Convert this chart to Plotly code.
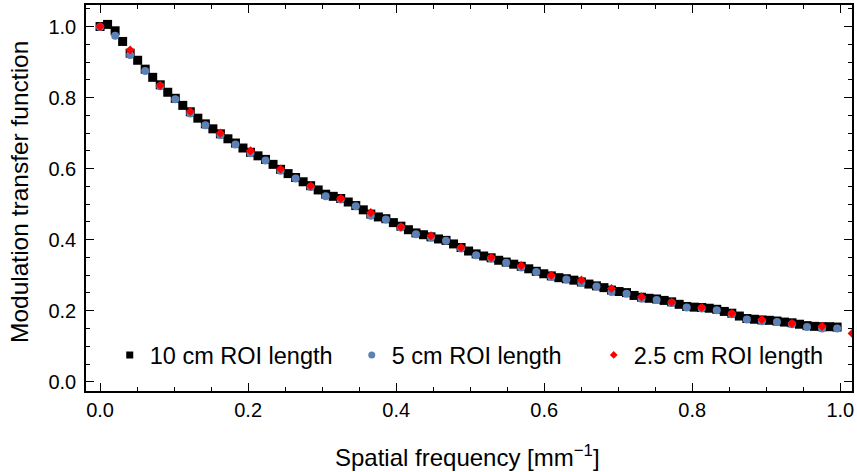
import plotly.graph_objects as go

# spatial frequency steps (mm^-1) for each ROI length
df_10 = 0.01016
df_5 = 0.02032
df_25 = 0.04064

mtf_10cm = [1.000, 1.006, 0.988, 0.958, 0.925, 0.905, 0.880, 0.857, 0.836, 0.815,
            0.798, 0.778, 0.760, 0.742, 0.726, 0.712, 0.698, 0.684, 0.672, 0.658,
            0.646, 0.636, 0.626, 0.612, 0.598, 0.586, 0.575, 0.563, 0.552, 0.540,
            0.528, 0.522, 0.516, 0.506, 0.496, 0.484, 0.472, 0.464, 0.459, 0.448,
            0.438, 0.428, 0.419, 0.414, 0.408, 0.402, 0.398, 0.388, 0.378, 0.368,
            0.360, 0.354, 0.349, 0.342, 0.337, 0.331, 0.325, 0.318, 0.311, 0.304,
            0.298, 0.293, 0.290, 0.286, 0.281, 0.275, 0.270, 0.265, 0.258, 0.254,
            0.251, 0.243, 0.238, 0.235, 0.233, 0.229, 0.225, 0.218, 0.212, 0.210,
            0.209, 0.207, 0.204, 0.198, 0.193, 0.185, 0.178, 0.176, 0.174, 0.173,
            0.171, 0.168, 0.166, 0.162, 0.158, 0.156, 0.155, 0.155, 0.154]

mtf_5cm = [0.999, 0.974, 0.920, 0.875, 0.832, 0.795, 0.755, 0.722, 0.694, 0.668,
           0.643, 0.623, 0.594, 0.572, 0.548, 0.5225, 0.513, 0.494, 0.467, 0.457,
           0.434, 0.415, 0.406, 0.397, 0.375, 0.356, 0.347, 0.335, 0.322, 0.309,
           0.295, 0.288, 0.278, 0.268, 0.253, 0.248, 0.234, 0.230, 0.222, 0.209,
           0.206, 0.201, 0.190, 0.175, 0.170, 0.168, 0.162, 0.154, 0.150, 0.150]

mtf_25cm = [1.000, 0.934, 0.834, 0.761, 0.700, 0.650, 0.599, 0.551, 0.516, 0.476,
            0.436, 0.411, 0.378, 0.350, 0.327, 0.300, 0.286, 0.2625, 0.239, 0.224,
            0.209, 0.192, 0.175, 0.164, 0.156, 0.136]

labels = ["10 cm ROI length", "5 cm ROI length", "2.5 cm ROI length"]
colors = ["#000000", "#5E81B5", "#FF0000"]
x_title = "Spatial frequency [mm<sup>−1</sup>]"
y_title = "Modulation transfer function"

f_10 = [df_10 * i for i in range(len(mtf_10cm))]
f_5 = [df_5 * i for i in range(len(mtf_5cm))]
f_25 = [df_25 * i for i in range(len(mtf_25cm))]

FONT = "Liberation Sans, Arial, Helvetica, sans-serif"

fig = go.Figure()
series = [
    (f_10, mtf_10cm, "square", 9, 7),
    (f_5, mtf_5cm, "circle", 8, 7),
    (f_25, mtf_25cm, "diamond", 7, 6),
]
for (x, y, sym, sz, lsz), lab, col in zip(series, labels, colors):
    fig.add_trace(go.Scatter(x=x, y=y, mode="markers", showlegend=False,
                             marker=dict(symbol=sym, size=sz, color=col, line=dict(width=0))))
for (x, y, sym, sz, lsz), lab, col in zip(series, labels, colors):
    fig.add_trace(go.Scatter(x=[None], y=[None], mode="markers", name=lab,
                             marker=dict(symbol=sym, size=lsz, color=col, line=dict(width=0))))

axis_common = dict(
    showline=True, linecolor="black", linewidth=1.6, mirror="allticks",
    ticks="inside", ticklen=8, tickwidth=1.3, tickcolor="black",
    showgrid=False, zeroline=False, dtick=0.2, tickformat=".1f",
    tickfont=dict(family=FONT, size=20, color="black"),
    minor=dict(ticks="inside", ticklen=4.5, tickwidth=1.3, tickcolor="black", dtick=0.05, showgrid=False),
    automargin=False,
)

fig.update_xaxes(range=[-0.019, 1.0158], tick0=0, **axis_common)
fig.update_yaxes(range=[-0.026, 1.0606], tick0=0, ticklabelstandoff=4, **axis_common)

L, R, T, B = 86, 5, 5, 81
fig.update_layout(
    width=857, height=472,
    margin=dict(l=L, r=R, t=T, b=B),
    plot_bgcolor="white", paper_bgcolor="white",
    font=dict(family=FONT, size=20, color="black"),
    legend=dict(orientation="h", x=0.031, y=0.093, xanchor="left", yanchor="middle",
                bgcolor="rgba(0,0,0,0)", font=dict(family=FONT, size=23.5, color="black"),
                entrywidth=197, entrywidthmode="pixels", itemwidth=30),
    annotations=[
        dict(text=x_title, xref="paper", yref="paper", x=(467 - L) / 766, y=(391 - 456) / 386,
             xanchor="center", yanchor="middle", showarrow=False,
             font=dict(family=FONT, size=24, color="black")),
        dict(text=y_title, xref="paper", yref="paper", x=(20 - L) / 766, y=(391 - 192) / 386,
             xanchor="center", yanchor="middle", textangle=-90, showarrow=False,
             font=dict(family=FONT, size=24.5, color="black")),
    ],
)

fig.write_html("out.html", config={"displayModeBar": False},
               post_script="document.body.style.margin='0px';")
